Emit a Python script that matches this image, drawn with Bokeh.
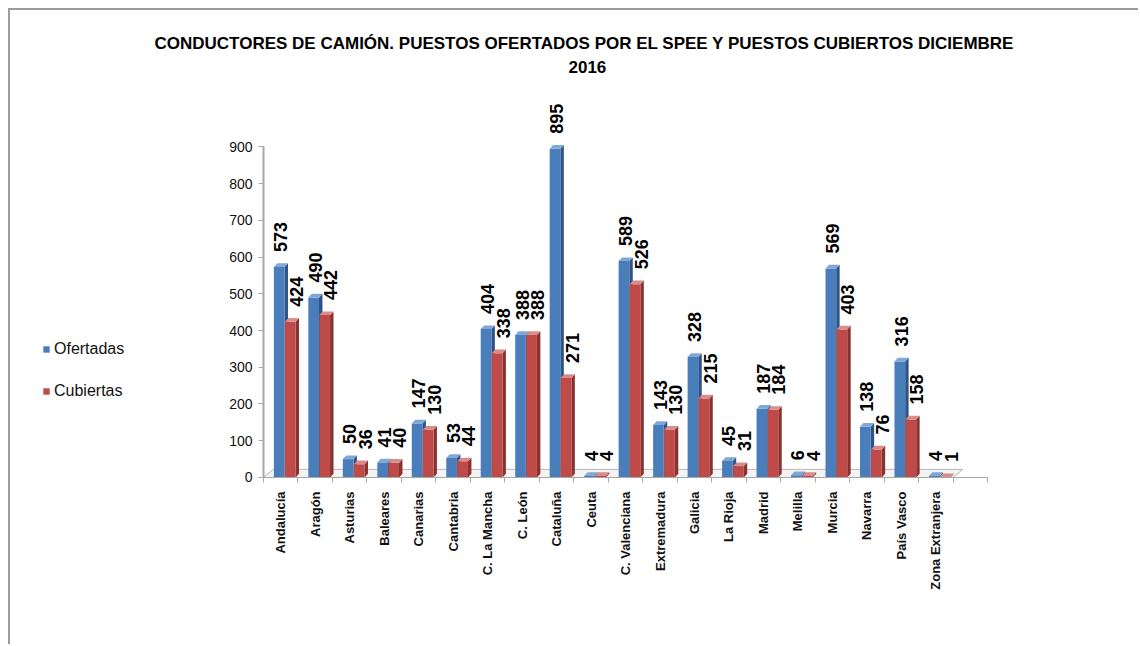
import math
from bokeh.plotting import figure
from bokeh.models import Range1d, FixedTicker, Legend, LegendItem, Title
from bokeh.core.properties import value
from bokeh.embed import file_html
from bokeh.resources import INLINE

categories = ["Andalucía", "Aragón", "Asturias", "Baleares", "Canarias", "Cantabria",
              "C. La Mancha", "C. León", "Cataluña", "Ceuta", "C. Valenciana",
              "Extremadura", "Galicia", "La Rioja", "Madrid", "Melilla", "Murcia",
              "Navarra", "País Vasco", "Zona Extranjera"]
ofertadas = [573, 490, 50, 41, 147, 53, 404, 388, 895, 4, 589, 143, 328, 45, 187, 6, 569, 138, 316, 4]
cubiertas = [424, 442, 36, 40, 130, 44, 338, 388, 271, 4, 526, 130, 215, 31, 184, 4, 403, 76, 158, 1]
y_ticks = [0, 100, 200, 300, 400, 500, 600, 700, 800, 900]
series_names = ["Ofertadas", "Cubiertas"]
title_line1 = "CONDUCTORES DE CAMIÓN. PUESTOS OFERTADOS POR EL SPEE Y PUESTOS CUBIERTOS DICIEMBRE"
title_line2 = "2016"

FONT = "Liberation Sans"
n = len(categories)

p = figure(width=1130, height=636, output_backend="svg", toolbar_location=None,
           x_range=Range1d(-7.548, 20.788), y_range=Range1d(-446.5, 1086),
           min_border_left=10, min_border_right=143, min_border_top=68, min_border_bottom=5)
p.outline_line_color = None
p.xgrid.visible = False
p.ygrid.visible = False
p.background_fill_color = "white"
p.border_fill_color = "white"
p.styles = {"margin-left": "8px", "margin-top": "8px",
            "border-left": "2px solid #9c9c9c", "border-top": "2px solid #9c9c9c"}

# 3D floor
p.patch(x=[-0.5, n - 0.5, n - 0.5 + 0.28, -0.5 + 0.28], y=[0, 0, 22, 22],
        fill_color="#f4f4f4", line_color="#b5b5b5", line_width=1)

W = 0.31   # front width (slot units)
DX = 0.10  # depth x (slot units)
DY = 10    # depth y (value units)

def bars(vals, off, front, side, top):
    lefts = [i + off for i in range(n)]
    rights = [l + W for l in lefts]
    p.patches(xs=[[r, r + DX, r + DX, r] for r in rights],
              ys=[[0, DY, v + DY, v] for v in vals],
              fill_color=side, line_color=None)
    fr = p.quad(left=lefts, right=rights, bottom=[0] * n, top=vals,
                fill_color=front, line_color=None)
    p.patches(xs=[[l, l + DX, r + DX, r] for l, r in zip(lefts, rights)],
              ys=[[v, v + DY, v + DY, v] for v in vals],
              fill_color=top, line_color=None)
    return fr

r_of = bars(ofertadas, -0.20, "#4a7ebb", "#2c5485", "#7fa7d8")
r_cu = bars(cubiertas, 0.12, "#be4b48", "#8a3230", "#d98c8a")

# data labels
lab_style = dict(text_font=value(FONT), text_font_style="bold", text_font_size="18px",
                 text_color="black", angle=math.pi / 2, text_align="left",
                 text_baseline="middle", y_offset=-15)
p.text(x=[i + 0.0 for i in range(n)], y=ofertadas, text=[str(v) for v in ofertadas], **lab_style)
p.text(x=[i + 0.45 for i in range(n)], y=cubiertas, text=[str(v) for v in cubiertas], **lab_style)

# y axis (inside the frame so the legend can sit left of it)
ya = p.yaxis[0]
ya.fixed_location = -0.5
ya.ticker = FixedTicker(ticks=y_ticks)
ya.bounds = (0, 900)
ya.axis_line_color = "#a8a8a8"
ya.axis_line_width = 2
ya.major_tick_line_color = "#a8a8a8"
ya.major_tick_in = 0
ya.major_tick_out = 5
ya.minor_tick_line_color = None
ya.major_label_text_font = FONT
ya.major_label_text_font_size = "14px"
ya.major_label_text_color = "#111111"
ya.major_label_standoff = 6

# x axis at value 0
xa = p.xaxis[0]
xa.fixed_location = 0
xa.ticker = FixedTicker(ticks=list(range(n)), minor_ticks=[i - 0.5 for i in range(n + 2)])
xa.bounds = (-0.5, n + 0.5)
xa.major_label_overrides = {i: c for i, c in enumerate(categories)}
xa.major_label_orientation = math.pi / 2
xa.major_label_text_font = FONT
xa.major_label_text_font_style = "bold"
xa.major_label_text_font_size = "13px"
xa.major_label_text_color = "#111111"
xa.major_tick_line_color = None
xa.minor_tick_line_color = "#a8a8a8"
xa.minor_tick_in = 0
xa.minor_tick_out = 5
xa.axis_line_color = "#a8a8a8"
xa.axis_line_width = 1
xa.major_label_standoff = 8

# titles (outer = first line, inner = second line)
p.title.text = title_line1
p.title.align = "left"
p.title.offset = 134
p.title.text_font = FONT
p.title.text_font_style = "bold"
p.title.text_font_size = "17px"
p.title.text_color = "black"
p.title.standoff = 0
t2 = Title(text=title_line2, align="left", offset=548, text_font=FONT,
           text_font_style="bold", text_font_size="17px", text_color="black", standoff=12)
p.add_layout(t2, "above")

legend = Legend(items=[LegendItem(label=series_names[0], renderers=[r_of]),
                       LegendItem(label=series_names[1], renderers=[r_cu])],
                location=(22, 240), glyph_width=8, glyph_height=8, label_height=20,
                spacing=22, padding=0, margin=0, border_line_color=None,
                background_fill_alpha=0, label_text_font=FONT, label_text_color="#111111",
                label_text_font_size="16px", label_standoff=4)
p.add_layout(legend)

open("out.html", "w").write(file_html(p, INLINE))
